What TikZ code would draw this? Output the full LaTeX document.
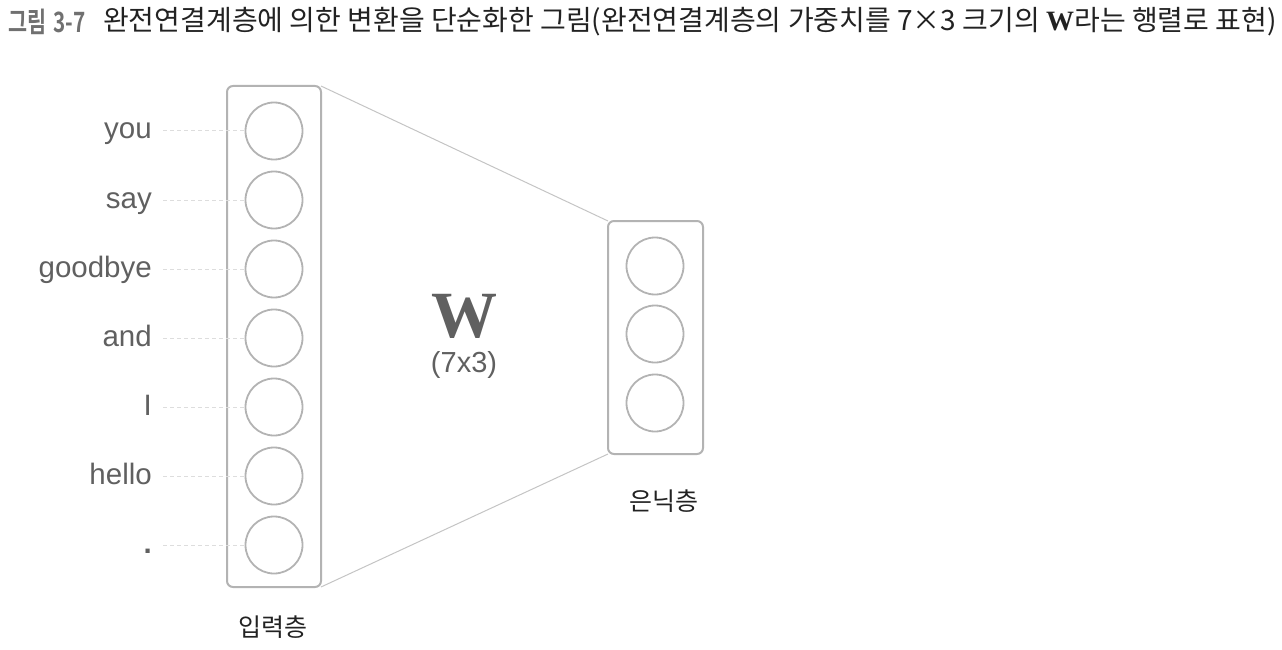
\documentclass[tikz,border=0pt]{standalone}
\usepackage{fontspec}
\setmainfont{Liberation Sans}
\newfontfamily\kr{Noto Sans CJK KR}
\newfontfamily\krb{Noto Sans CJK KR Bold}
\newfontfamily\serifb{Liberation Serif}
\definecolor{boxgray}{HTML}{B3B3B3}
\definecolor{linegray}{HTML}{C4C4C4}
\definecolor{dashgray}{HTML}{DDDDDD}
\definecolor{textgray}{HTML}{606060}
\definecolor{titlegray}{HTML}{707070}
\definecolor{titledark}{HTML}{222222}
\tikzset{
  layerbox/.style={draw=boxgray, line width=2pt, rounded corners=6pt},
  unit/.style={circle, draw=boxgray, line width=1.8pt, minimum size=57pt, inner sep=0pt},
  word/.style={anchor=base east, inner sep=0pt, text=textgray, font=\fontsize{29.5}{32}\selectfont},
  wire/.style={draw=linegray, line width=1pt},
  guide/.style={draw=dashgray, line width=1pt, dash pattern=on 4pt off 3pt},
  layername/.style={font=\kr\fontsize{25}{30}\selectfont, text=titledark}
}
\begin{document}
\begin{tikzpicture}[x=1pt,y=-1pt]
\useasboundingbox (0,0) rectangle (1282,650);
% title
\node[anchor=west, inner sep=0pt] (tnum) at (8,22) {\scalebox{0.74}[1]{\fontsize{28}{32}\selectfont\krb\color{titlegray}그림\hspace{10pt}3-7}};
\node[anchor=west, inner sep=0pt] (title) at (103,22) {\fontsize{28}{32}\selectfont\kr\color{titledark}완전연결계층에 의한 변환을 단순화한 그림(완전연결계층의 가중치를 7×3 크기의 {\serifb\bfseries W}라는 행렬로 표현)};
% input layer box
\coordinate (inTL) at (227,86);
\coordinate (inBR) at (321,587);
\draw[layerbox] (inTL) rectangle (inBR);
\coordinate (inTR) at (321,86);
\coordinate (inBRc) at (321,587);
% hidden layer box
\coordinate (hTL) at (608,221);
\coordinate (hBR) at (703,454);
\coordinate (hBL) at (608,454);
\draw[layerbox] (hTL) rectangle (hBR);
% wires
\draw[wire] (inTR) -- (hTL);
\draw[wire] (inBRc) -- (hBL);
% input units
\foreach \i/\y/\w in {1/131/you, 2/200/say, 3/269/goodbye, 4/338/and, 5/407/I, 6/476/hello, 7/545/{\bfseries .}}{
  \node[unit] (in\i) at (274,\y) {};
  \node[word] (w\i) at (152,\y+8) {\w};
  \coordinate (g\i) at (163,\y);
  \draw[guide] (g\i) -- (in\i.west);
}
% hidden units
\foreach \i/\y in {1/266, 2/334, 3/403}{
  \node[unit] (h\i) at (655,\y) {};
}
% W label
\node[anchor=base, text=textgray, font=\serifb\bfseries\fontsize{66}{66}\selectfont, inner sep=0pt] (W) at (464,337) {W};
\node[anchor=base, text=textgray, font=\fontsize{29}{32}\selectfont, inner sep=0pt] (dim) at (464,372) {(7x3)};
% layer names
\node[layername] (hname) at (664,501) {은닉층};
\node[layername] (iname) at (273,627) {입력층};
\end{tikzpicture}
\end{document}
